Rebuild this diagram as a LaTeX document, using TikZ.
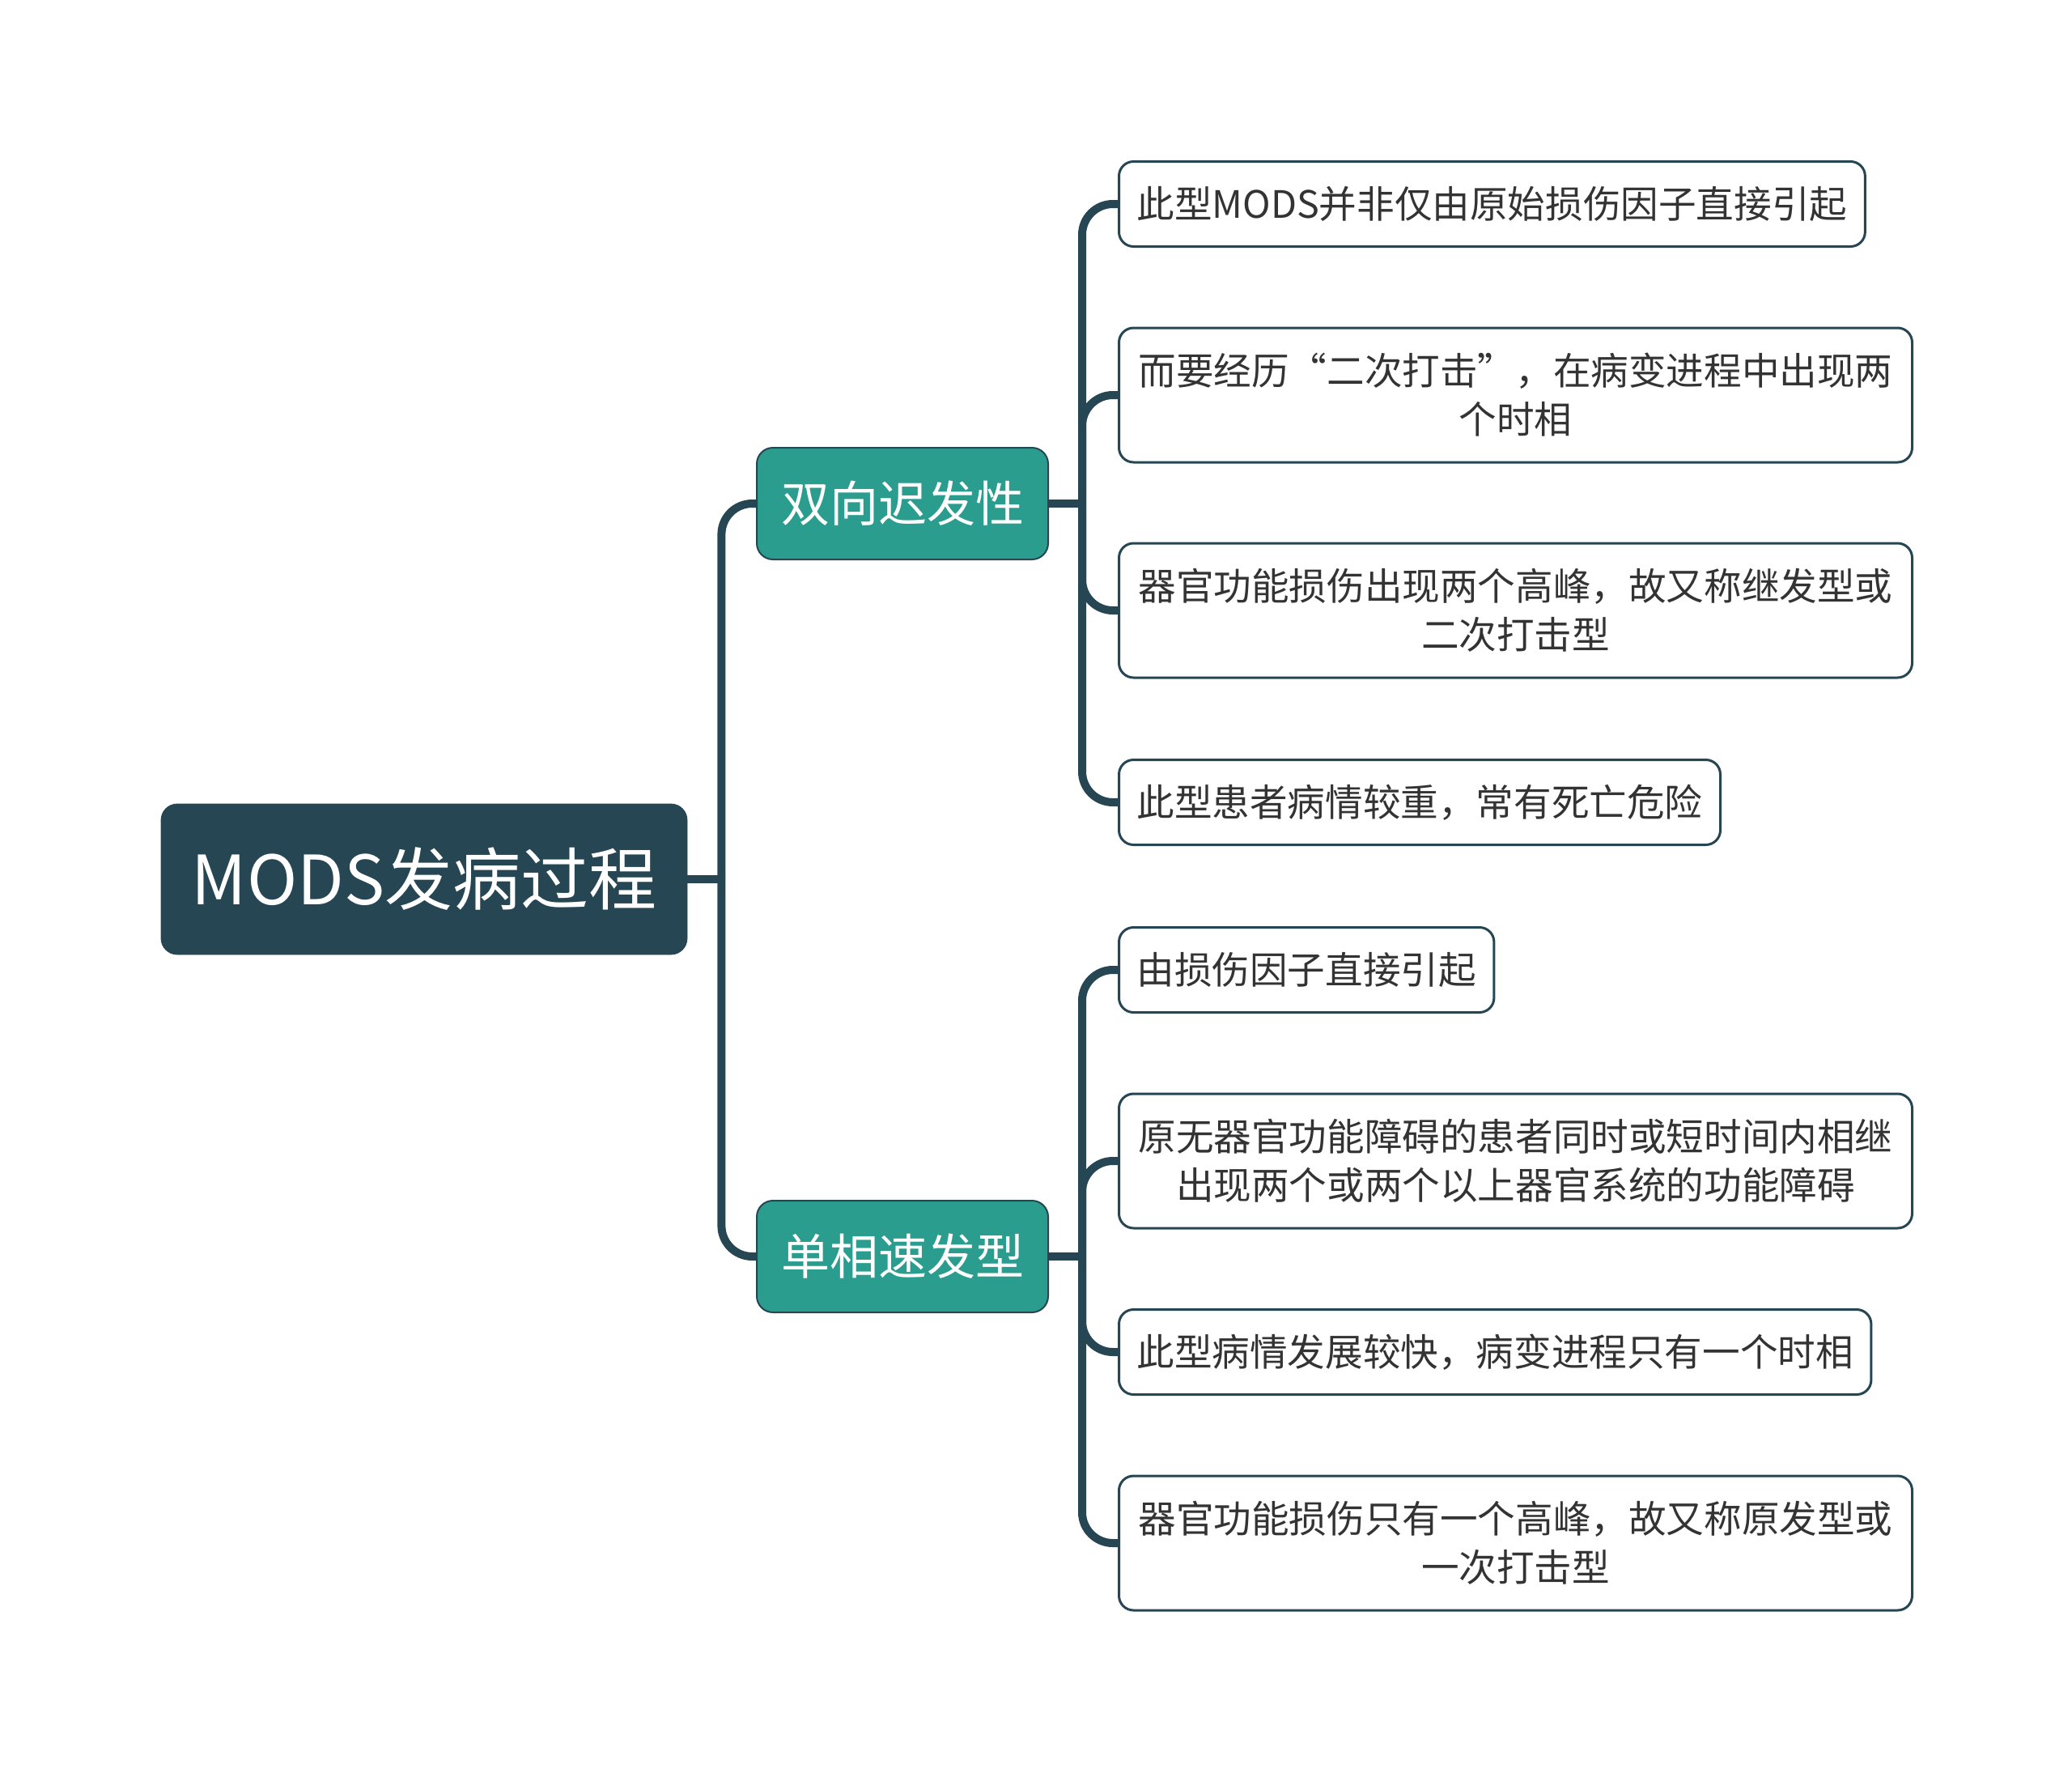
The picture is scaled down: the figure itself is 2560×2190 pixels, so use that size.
\documentclass[tikz,border=0pt]{standalone}
\usepackage{fontspec}
\setmainfont{Noto Sans CJK SC}
\usetikzlibrary{calc}

\definecolor{mmdark}{HTML}{264653}
\definecolor{mmteal}{HTML}{2A9D8F}
\definecolor{mmtext}{HTML}{333333}

\begin{document}
\begin{tikzpicture}[
  x=0.5pt, y=-0.5pt,
  rootbox/.style={fill=mmdark, draw=mmdark, rounded corners=10pt, text=white,
                  font=\fontsize{42}{50}\selectfont, inner sep=0pt,
                  minimum width=325pt, minimum height=93pt},
  midbox/.style={fill=mmteal, draw=mmdark, line width=1pt, rounded corners=10pt,
                 text=white, font=\fontsize{30}{36}\selectfont, inner sep=0pt,
                 minimum width=180pt, minimum height=69pt},
  leafbox/.style={draw=mmdark, line width=1.5pt, fill=white, rounded corners=9pt,
                  text=mmtext, font=\fontsize{23.3}{30}\selectfont, align=center,
                  anchor=west, inner xsep=11pt, minimum height=52.5pt},
  wide/.style={minimum width=490pt, minimum height=83pt},
  conn/.style={draw=mmdark, line width=5pt, rounded corners=19pt},
]
\useasboundingbox (0,0) rectangle (2560,2190);

% root and the two types
\node[rootbox] (root) at (524,1086) {MODS发病过程};
\node[midbox] (late) at (1115,622) {双向迟发性};
\node[midbox] (fast) at (1115,1552) {单相速发型};

% leaves of the first type
\node[leafbox] (l1) at (1381,252) {此型MODS并非仅由原始损伤因子直接引起};
\node[leafbox, wide] (l2) at (1381,488) {而要经历“二次打击”，在病变进程中出现两\\个时相};
\node[leafbox, wide] (l3) at (1381,754) {器官功能损伤出现两个高峰，故又称继发型或\\二次打击型};
\node[leafbox] (l4) at (1381,991) {此型患者病情较重，常有死亡危险};

% leaves of the second type
\node[leafbox] (s1) at (1381,1198) {由损伤因子直接引起};
\node[leafbox, wide] (s2) at (1381,1434) {原无器官功能障碍的患者同时或短时间内相继\\出现两个或两个以上器官系统的功能障碍};
\node[leafbox] (s3) at (1381,1670) {此型病情发展较快，病变进程只有一个时相};
\node[leafbox, wide] (s4) at (1381,1906) {器官功能损伤只有一个高峰，故又称原发型或\\一次打击型};

% connectors
\coordinate (j0) at ([xshift=21pt]root.east);
\draw[conn] (root.east) -- (j0);
\draw[conn] (j0) |- (late.west);
\draw[conn] (j0) |- (fast.west);

\coordinate (j1) at ([xshift=20.5pt]late.east);
\draw[conn] (late.east) -- (j1);
\foreach \n in {l1,l2,l3,l4}
  \draw[conn] (j1) |- (\n.west);

\coordinate (j2) at ([xshift=20.5pt]fast.east);
\draw[conn] (fast.east) -- (j2);
\foreach \n in {s1,s2,s3,s4}
  \draw[conn] (j2) |- (\n.west);
\end{tikzpicture}
\end{document}
